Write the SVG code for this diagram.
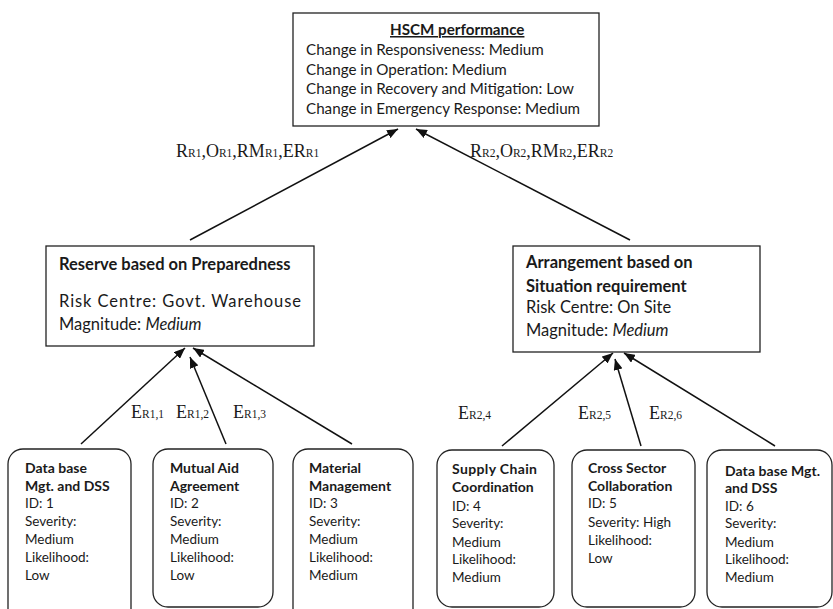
<svg xmlns="http://www.w3.org/2000/svg" width="833" height="609" viewBox="0 0 833 609">
<style>
  .box { fill: #fff; stroke: #222; stroke-width: 1.3; }
  .t { font-family: Lato, "Open Sans", "Liberation Sans", sans-serif; font-size: 13.5px; fill: #1a1a1a; }
  .tb { font-family: Lato, "Open Sans", "Liberation Sans", sans-serif; font-size: 14px; font-weight: bold; fill: #1a1a1a; }
  .top { font-family: Lato, "Open Sans", "Liberation Sans", sans-serif; font-size: 15.2px; fill: #1a1a1a; }
  .mid { font-family: Lato, "Open Sans", "Liberation Sans", sans-serif; font-size: 16.5px; fill: #1a1a1a; }
  .b { font-weight: bold; }
  .i { font-style: italic; }
  .s { font-family: "Liberation Serif", "Times New Roman", serif; font-size: 18px; fill: #1a1a1a; }
  .sub { font-size: 11.5px; }
  .conn { stroke: #111; stroke-width: 1.5; fill: none; marker-end: url(#arr); }
</style>
<defs>
  <marker id="arr" markerUnits="userSpaceOnUse" markerWidth="11" markerHeight="9" refX="11" refY="4.5" orient="auto">
    <path d="M0,0 L11,4.5 L0,9 z" fill="#111"/>
  </marker>
</defs>
<rect width="833" height="609" fill="#fff"/>

<g id="connectors">
  <line class="conn" x1="190" y1="240" x2="398" y2="129"/>
  <line class="conn" x1="630" y1="240" x2="416" y2="129"/>
  <line class="conn" x1="81" y1="444" x2="185" y2="348"/>
  <line class="conn" x1="226" y1="444" x2="190" y2="357"/>
  <line class="conn" x1="352" y1="444" x2="193" y2="348"/>
  <line class="conn" x1="502" y1="446" x2="613" y2="353"/>
  <line class="conn" x1="641" y1="446" x2="615" y2="359"/>
  <line class="conn" x1="775" y1="446" x2="624" y2="353"/>
</g>

<g id="labels">
  <text class="s" x="176" y="157">R<tspan class="sub">R1</tspan>,O<tspan class="sub">R1</tspan>,RM<tspan class="sub">R1</tspan>,ER<tspan class="sub">R1</tspan></text>
  <text class="s" x="470" y="157">R<tspan class="sub">R2</tspan>,O<tspan class="sub">R2</tspan>,RM<tspan class="sub">R2</tspan>,ER<tspan class="sub">R2</tspan></text>
  <text class="s" x="131" y="418">E<tspan class="sub">R1,1</tspan></text>
  <text class="s" x="176" y="418">E<tspan class="sub">R1,2</tspan></text>
  <text class="s" x="233" y="418">E<tspan class="sub">R1,3</tspan></text>
  <text class="s" x="458" y="419">E<tspan class="sub">R2,4</tspan></text>
  <text class="s" x="578" y="419">E<tspan class="sub">R2,5</tspan></text>
  <text class="s" x="649" y="419">E<tspan class="sub">R2,6</tspan></text>
</g>

<g id="hscm">
  <rect class="box" x="293" y="13" width="306" height="113"/>
  <text class="top b" x="390" y="35" text-decoration="underline">HSCM performance</text>
  <text class="top" x="306" y="55">Change in Responsiveness: Medium</text>
  <text class="top" x="306" y="75">Change in Operation: Medium</text>
  <text class="top" x="306" y="94">Change in Recovery and Mitigation: Low</text>
  <text class="top" x="306" y="114">Change in Emergency Response: Medium</text>
</g>

<g id="reserve">
  <rect class="box" x="46" y="246" width="268" height="100"/>
  <text class="mid b" x="59" y="270">Reserve based on Preparedness</text>
  <text class="mid" x="59" y="307" textLength="242" lengthAdjust="spacing">Risk Centre: Govt. Warehouse</text>
  <text class="mid" x="59" y="330">Magnitude: <tspan class="i">Medium</tspan></text>
</g>

<g id="arrangement">
  <rect class="box" x="513" y="246" width="247" height="106"/>
  <text class="mid b" x="526" y="268">Arrangement based on</text>
  <text class="mid b" x="526" y="292">Situation requirement</text>
  <text class="mid" x="526" y="313">Risk Centre: On Site</text>
  <text class="mid" x="526" y="336">Magnitude: <tspan class="i">Medium</tspan></text>
</g>

<g id="e1">
  <rect class="box" x="8" y="449" width="123" height="175" rx="15"/>
  <text class="tb" x="25" y="473">Data base</text>
  <text class="tb" x="25" y="491">Mgt. and DSS</text>
  <text class="t" x="25" y="508">ID: 1</text>
  <text class="t" x="25" y="526">Severity:</text>
  <text class="t" x="25" y="544">Medium</text>
  <text class="t" x="25" y="562">Likelihood:</text>
  <text class="t" x="25" y="580">Low</text>
</g>

<g id="e2">
  <rect class="box" x="153" y="449" width="120" height="158" rx="15"/>
  <text class="tb" x="170" y="473">Mutual Aid</text>
  <text class="tb" x="170" y="491">Agreement</text>
  <text class="t" x="170" y="508">ID: 2</text>
  <text class="t" x="170" y="526">Severity:</text>
  <text class="t" x="170" y="544">Medium</text>
  <text class="t" x="170" y="562">Likelihood:</text>
  <text class="t" x="170" y="580">Low</text>
</g>

<g id="e3">
  <rect class="box" x="293" y="449" width="120" height="175" rx="15"/>
  <text class="tb" x="309" y="473">Material</text>
  <text class="tb" x="309" y="491">Management</text>
  <text class="t" x="309" y="508">ID: 3</text>
  <text class="t" x="309" y="526">Severity:</text>
  <text class="t" x="309" y="544">Medium</text>
  <text class="t" x="309" y="562">Likelihood:</text>
  <text class="t" x="309" y="580">Medium</text>
</g>

<g id="e4">
  <rect class="box" x="437" y="450" width="117" height="157" rx="15"/>
  <text class="tb" x="452" y="474" textLength="85" lengthAdjust="spacing">Supply Chain</text>
  <text class="tb" x="452" y="492">Coordination</text>
  <text class="t" x="452" y="511">ID: 4</text>
  <text class="t" x="452" y="528">Severity:</text>
  <text class="t" x="452" y="547">Medium</text>
  <text class="t" x="452" y="564">Likelihood:</text>
  <text class="t" x="452" y="582">Medium</text>
</g>

<g id="e5">
  <rect class="box" x="572" y="450" width="123" height="157" rx="15"/>
  <text class="tb" x="588" y="473">Cross Sector</text>
  <text class="tb" x="588" y="491">Collaboration</text>
  <text class="t" x="588" y="508">ID: 5</text>
  <text class="t" x="588" y="527">Severity: High</text>
  <text class="t" x="588" y="545">Likelihood:</text>
  <text class="t" x="588" y="563">Low</text>
</g>

<g id="e6">
  <rect class="box" x="707" y="450" width="125" height="157" rx="15"/>
  <text class="tb" x="725" y="476" textLength="95" lengthAdjust="spacing">Data base Mgt.</text>
  <text class="tb" x="725" y="493">and DSS</text>
  <text class="t" x="725" y="511">ID: 6</text>
  <text class="t" x="725" y="528">Severity:</text>
  <text class="t" x="725" y="547">Medium</text>
  <text class="t" x="725" y="564">Likelihood:</text>
  <text class="t" x="725" y="582">Medium</text>
</g>
</svg>
